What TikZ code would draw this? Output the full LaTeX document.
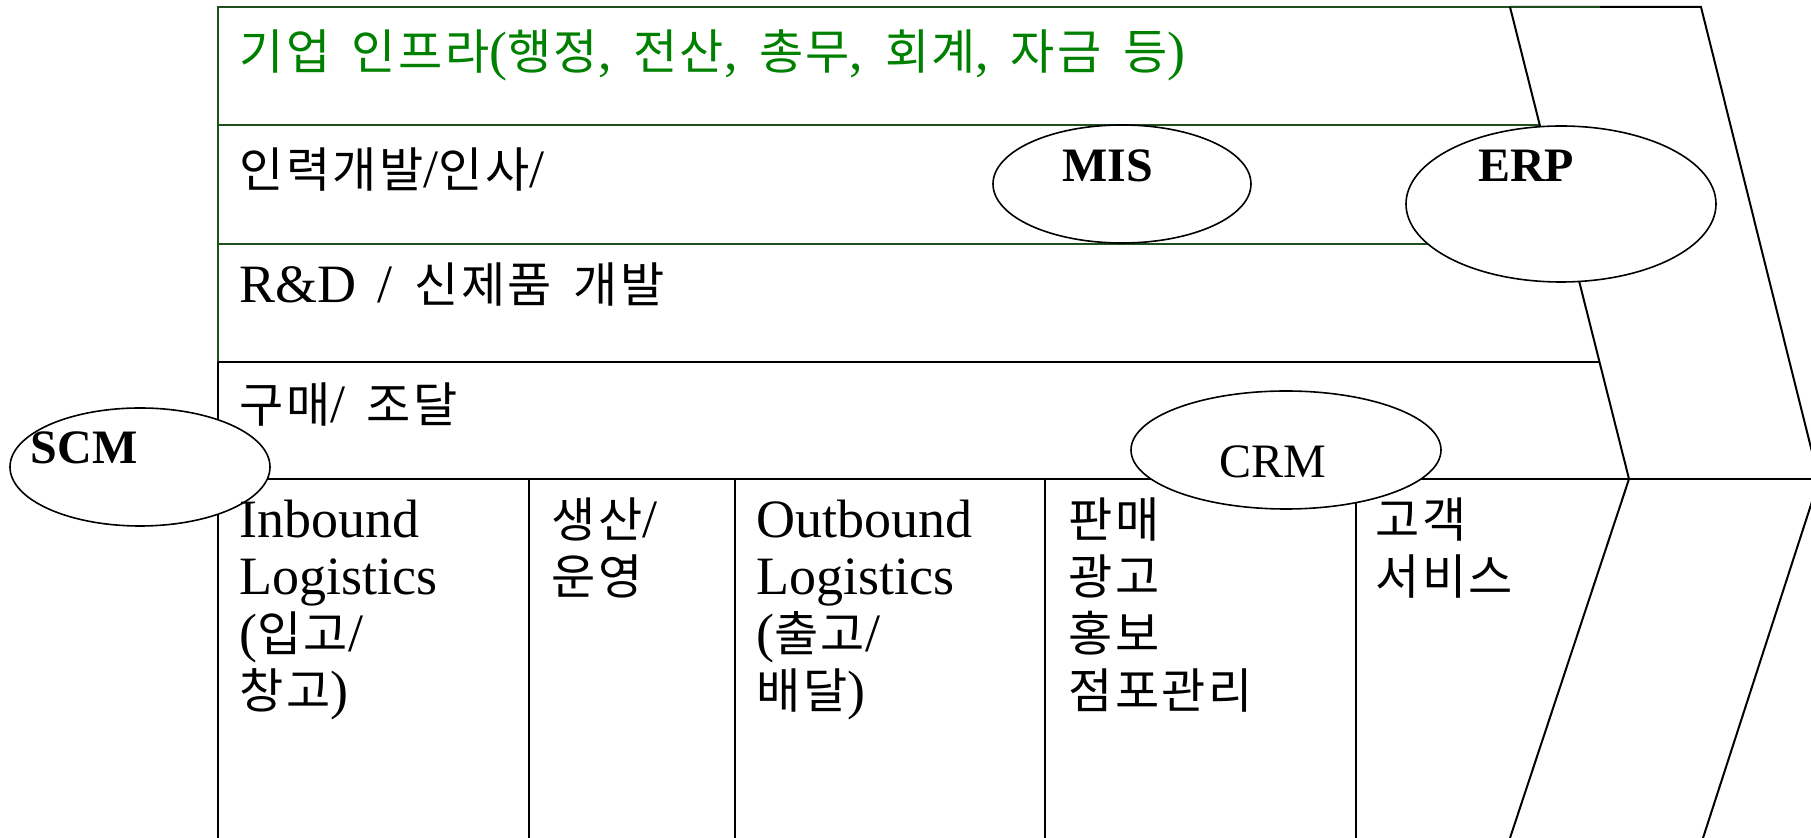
\documentclass[tikz,border=0pt]{standalone}
\usepackage{fontspec}
\setmainfont{Liberation Serif}
\newfontfamily\krfont[Scale=0.89,LetterSpace=5]{Noto Sans CJK KR}
\newcommand{\K}[1]{{\krfont #1}}
\newcommand{\widesp}{\spaceskip=0.4em\relax}
\newcommand{\bodyfont}{\fontsize{27pt}{28.5pt}\selectfont\widesp}
\usetikzlibrary{shapes.geometric}
\definecolor{lgreen}{RGB}{30,80,30}
\definecolor{tgreen}{RGB}{0,128,0}
\begin{document}
\begin{tikzpicture}[x=0.5pt,y=-0.5pt,
  ln/.style={line width=1pt,draw=black},
  gln/.style={line width=1pt,draw=lgreen},
  ell/.style={ellipse,draw=black,line width=0.8pt,fill=white,inner sep=0pt},
  txt/.style={inner sep=0pt,anchor=base west,font=\bodyfont},
  col/.style={txt,align=left},
  lbl/.style={inner sep=0pt,font=\fontsize{24pt}{24pt}\selectfont\bfseries},
  lblr/.style={inner sep=0pt,font=\fontsize{24pt}{24pt}\selectfont},
]
\useasboundingbox (0,0) rectangle (1811,838);
\clip (0,0) rectangle (1811,838);
% key points
\coordinate (otop) at (1701,7);
\coordinate (oapex) at (1819,480);
\coordinate (obot) at (1703,838);
\coordinate (itop) at (1510,7);
\coordinate (iapex) at (1629,479);
\coordinate (ibot) at (1510,838);
\coordinate (tl) at (218,7);
\coordinate (l1) at (218,125);
\coordinate (l2) at (218,244);
\coordinate (l3) at (218,362);
\coordinate (l4) at (218,479);
\coordinate (bl) at (218,838);
\coordinate (r1) at (1539.7,125);
\coordinate (r2) at (1569.7,244);
\coordinate (r3) at (1599.5,362);
\coordinate (r4) at (1811,479);
% outer chevron
\draw[ln] (itop) -- (otop) -- (oapex) -- (obot);
% green rows
\draw[gln] (l3) -- (tl) -- (1600,7);
\draw[gln] (l1) -- (r1);
\draw[gln] (l2) -- (r2);
% black rows
\draw[ln] (l3) -- (r3);
\draw[ln] (l3) -- (bl);
\draw[ln] (l4) -- (r4);
\foreach \x in {529,735,1045,1356} \draw[ln] (\x,479) -- (\x,838);
% inner chevron
\draw[ln] (itop) -- (iapex) -- (ibot);
% ellipses
\node[ell,minimum width=129pt,minimum height=59pt] (mis) at (1122,184) {};
\node[ell,minimum width=155pt,minimum height=78pt] (erp) at (1561,204) {};
\node[ell,minimum width=130pt,minimum height=59pt] (scm) at (140,467) {};
\node[ell,minimum width=155pt,minimum height=59pt] (crm) at (1286,450) {};
\node[lbl] (mist) at (1108,166) {MIS};
\node[lbl] (erpt) at (1526,166) {ERP};
\node[lbl] (scmt) at (84,448) {SCM};
\node[lblr] (crmt) at (1273,462) {CRM};
% row texts
\node[txt,text=tgreen] (infra) at (239,70) {\K{기업} \K{인프라}(\K{행정}, \K{전산}, \K{총무}, \K{회계}, \K{자금} \K{등})};
\node[txt] (hr) at (239,188) {\K{인력개발}/\K{인사}/};
\node[txt] (rd) at (239,303) {R\&D / \K{신제품} \K{개발}};
\node[txt] (buy) at (239,423) {\K{구매}/ \K{조달}};
% column texts (base anchor = last line)
\node[col] (c1) at (239,709) {Inbound\\Logistics\\(\K{입고}/\\\K{창고})};
\node[col] (c2) at (551,595) {\K{생산}/\\\K{운영}};
\node[col] (c3) at (756,709) {Outbound\\Logistics\\(\K{출고}/\\\K{배달})};
\node[col] (c4) at (1068,709) {\K{판매}\\\K{광고}\\\K{홍보}\\\K{점포관리}};
\node[col] (c5) at (1375,595) {\K{고객}\\\K{서비스}};
\end{tikzpicture}
\end{document}
